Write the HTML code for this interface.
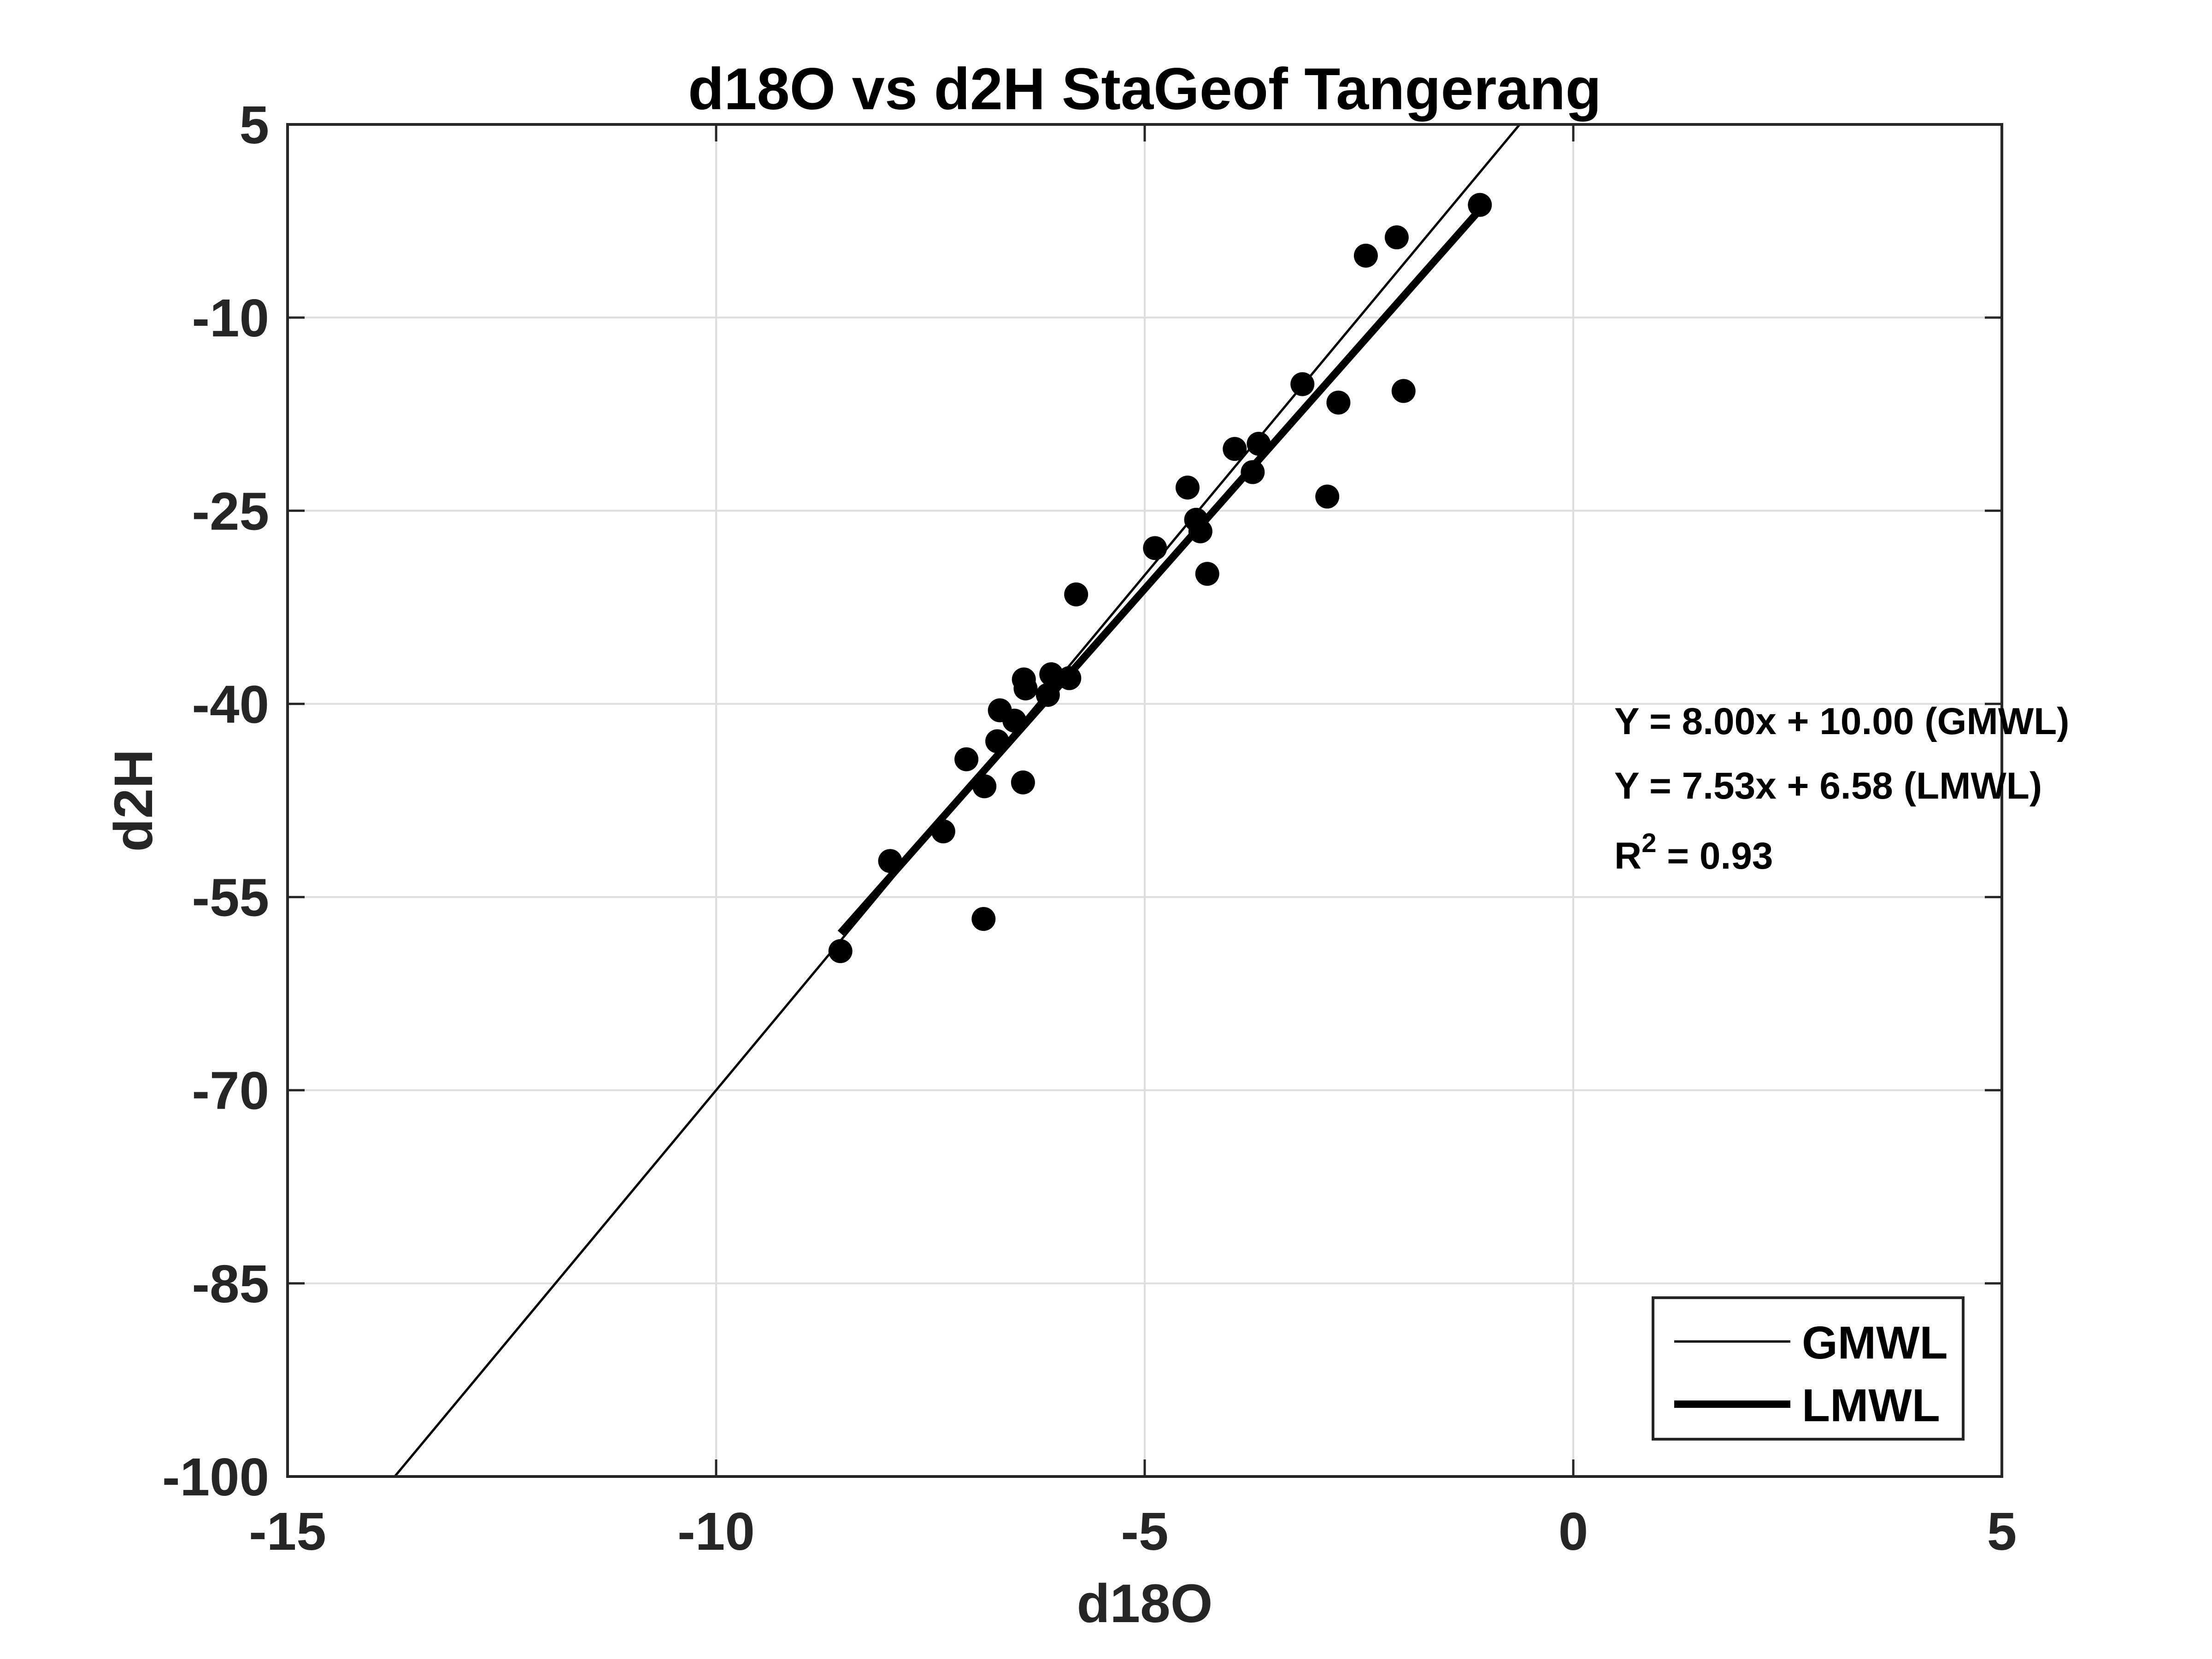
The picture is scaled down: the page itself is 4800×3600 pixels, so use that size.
<!DOCTYPE html>
<html><head><meta charset="utf-8"><style>
html,body{margin:0;padding:0;background:#fff;width:4800px;height:3600px;overflow:hidden}
svg{display:block;font-family:"Liberation Sans",Arial,sans-serif;font-weight:bold}
</style></head><body>
<svg id="chart" width="4800" height="3600" viewBox="0 0 4800 3600" xmlns="http://www.w3.org/2000/svg">
<rect width="4800" height="3600" fill="#fff"/>
<g id="grid"></g>
<g id="lines"></g>
<g id="points"></g>
<g id="axes"></g>
<text x="2484" y="237" font-size="128" text-anchor="middle" fill="#000">d18O vs d2H StaGeof Tangerang</text>
<text x="2484" y="3520" font-size="118" text-anchor="middle" fill="#262626">d18O</text>
<text transform="translate(330,1737) rotate(-90)" font-size="118" text-anchor="middle" fill="#262626">d2H</text>
<g font-size="82" fill="#000">
<text x="3503" y="1593">Y = 8.00x + 10.00 (GMWL)</text>
<text x="3503" y="1733">Y = 7.53x + 6.58 (LMWL)</text>
<text x="3503" y="1885">R<tspan dy="-36" font-size="58">2</tspan><tspan dy="36"> = 0.93</tspan></text>
</g>
<g>
<rect x="3587" y="2816" width="673" height="307" fill="#fff" stroke="#262626" stroke-width="6"/>
<line x1="3633" y1="2911" x2="3885" y2="2911" stroke="#000" stroke-width="5"/>
<text x="3910" y="2948" font-size="100" fill="#000">GMWL</text>
<line x1="3633" y1="3047" x2="3885" y2="3047" stroke="#000" stroke-width="16"/>
<text x="3910" y="3084" font-size="100" fill="#000">LMWL</text>
</g>
</svg>
<script>
const xTicks=[-15,-10,-5,0,5];
const yTicks=[5,-10,-25,-40,-55,-70,-85,-100];
const d18O=[-1.09,-2.06,-2.42,-3.16,-2.74,-1.98,-3.95,-3.67,-3.74,-4.50,-2.87,-4.40,-4.35,-4.88,-4.27,-5.80,-6.09,-6.41,-5.88,-6.39,-6.13,-6.69,-6.52,-6.72,-7.08,-6.87,-6.42,-7.35,-7.97,-6.88,-8.55];
const d2H=[-1.25,-3.77,-5.19,-15.17,-16.6,-15.7,-20.2,-19.8,-22.0,-23.2,-23.9,-25.7,-26.6,-27.9,-29.9,-31.5,-37.7,-38.1,-38.0,-38.8,-39.3,-40.5,-41.3,-42.9,-44.3,-46.4,-46.1,-49.9,-52.2,-56.7,-59.2];
const gmwlCoef=[8.00,10.00];
const lmwlCoef=[7.53,6.58];
const lmwlRange=[-8.55,-1.09];
const X0=624,X1=4344,Y0=270,Y1=3204,xmin=-15,xmax=5,ymin=-100,ymax=5;
const sx=v=>X0+(v-xmin)/(xmax-xmin)*(X1-X0);
const sy=v=>Y1-(v-ymin)/(ymax-ymin)*(Y1-Y0);
const NS="http://www.w3.org/2000/svg";
function mk(tag,attrs,parent){const e=document.createElementNS(NS,tag);for(const k in attrs)e.setAttribute(k,attrs[k]);parent.appendChild(e);return e;}
const grid=document.getElementById('grid'),axes=document.getElementById('axes'),lines=document.getElementById('lines'),pts=document.getElementById('points');
xTicks.forEach(t=>{
  const g=mk('line',{x1:sx(t),x2:sx(t),y1:Y0,y2:Y1,stroke:'#dedede','stroke-width':4},grid);
  
  
  const k1=mk('line',{x1:sx(t),x2:sx(t),y1:Y1,y2:Y1-37,stroke:'#262626','stroke-width':5},axes);
  
  
  const k2=mk('line',{x1:sx(t),x2:sx(t),y1:Y0,y2:Y0+37,stroke:'#262626','stroke-width':5},axes);
  
  
  const l=mk('text',{x:sx(t),y:3363,'font-size':116,'text-anchor':'middle',fill:'#262626'},axes);
  l.textContent=String(t);
  
  
});
yTicks.forEach(t=>{
  const g=mk('line',{x1:X0,x2:X1,y1:sy(t),y2:sy(t),stroke:'#dedede','stroke-width':4},grid);
  
  
  const k1=mk('line',{x1:X0,x2:X0+37,y1:sy(t),y2:sy(t),stroke:'#262626','stroke-width':5},axes);
  
  
  const k2=mk('line',{x1:X1,x2:X1-37,y1:sy(t),y2:sy(t),stroke:'#262626','stroke-width':5},axes);
  
  
  const l=mk('text',{x:X0-40,y:sy(t)+41,'font-size':116,'text-anchor':'end',fill:'#262626'},axes);
  l.textContent=String(t);
  
  
});
const box=mk('rect',{x:X0,y:Y0,width:X1-X0,height:Y1-Y0,fill:'none',stroke:'#262626','stroke-width':6},axes);


const gx0=(ymin-gmwlCoef[1])/gmwlCoef[0], gx1=(ymax-gmwlCoef[1])/gmwlCoef[0];
const gl=mk('line',{x1:sx(gx0),y1:sy(ymin),x2:sx(gx1),y2:sy(ymax),stroke:'#000','stroke-width':5},lines);


const ll=mk('line',{x1:sx(lmwlRange[0]),y1:sy(lmwlCoef[0]*lmwlRange[0]+lmwlCoef[1]),x2:sx(lmwlRange[1]),y2:sy(lmwlCoef[0]*lmwlRange[1]+lmwlCoef[1]),stroke:'#000','stroke-width':16},lines);


d18O.forEach((x,i)=>{
  const c=mk('circle',{cx:sx(x),cy:sy(d2H[i]),r:26,fill:'#000'},pts);
  
  
});
</script>
</body></html>
